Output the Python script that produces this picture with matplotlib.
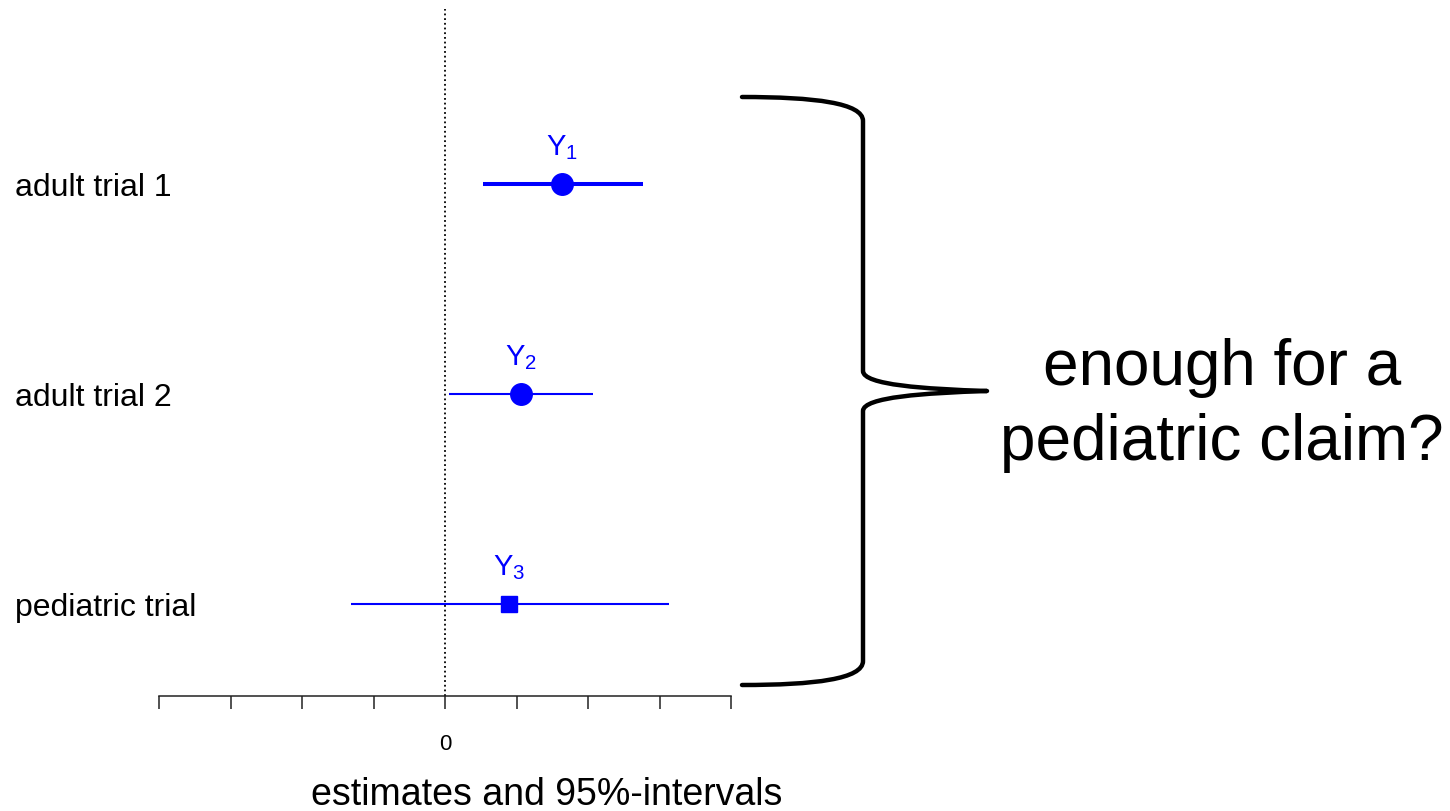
import matplotlib
matplotlib.use("Agg")
import matplotlib.pyplot as plt
from matplotlib.path import Path
from matplotlib.patches import PathPatch
import matplotlib.transforms as mtransforms

plt.rcParams['font.family'] = ['Liberation Sans', 'DejaVu Sans']
plt.rcParams['mathtext.fontset'] = 'custom'
plt.rcParams['mathtext.rm'] = 'Liberation Sans'
plt.rcParams['mathtext.it'] = 'Liberation Sans'

# Data
trials = ["adult trial 1", "adult trial 2", "pediatric trial"]
labels = [r"$\mathrm{Y}_1$", r"$\mathrm{Y}_2$", r"$\mathrm{Y}_3$"]
estimates = [1.64, 1.06, 0.90]
lower = [0.53, 0.06, -1.31]
upper = [2.77, 2.07, 3.13]
rows = [3, 2, 1]
markers = ["o", "o", "s"]
marker_sizes = [15.5, 15.5, 12]
line_widths = [2.9, 1.5, 1.5]
tick_values = [-4, -3, -2, -1, 0, 1, 2, 3, 4]
tick_labels = ["", "", "", "", "0", "", "", "", ""]
claim_lines = ["enough for a", "pediatric claim?"]

W, H = 1450, 812
fig = plt.figure(figsize=(W / 100, H / 100), dpi=100)
ax = fig.add_axes([159 / W, (H - 697) / H, 572 / W, (697 - 10) / H])

blue = "#0000FF"
ax.axvline(0, color="black", linestyle=(0, (1.0, 1.6)), linewidth=1.3, zorder=1)

for i in range(len(trials)):
    ax.plot([lower[i], upper[i]], [rows[i], rows[i]], color=blue,
            linewidth=line_widths[i], solid_capstyle="butt", zorder=2, clip_on=False)
    ax.plot(estimates[i], rows[i], marker=markers[i], color=blue,
            markersize=marker_sizes[i], linestyle="none", zorder=3, clip_on=False)
    ax.annotate(labels[i], (estimates[i], rows[i]), xytext=(0, 21.5),
                textcoords="offset points", ha="center", va="baseline",
                fontsize=21, color=blue)

# row labels, left aligned at the figure edge
trans = mtransforms.blended_transform_factory(fig.transFigure, ax.transData)
for i in range(len(trials)):
    ax.annotate(trials[i], (15 / W, rows[i]), xycoords=trans,
                xytext=(0, -3), textcoords="offset pixels",
                ha="left", va="center", fontsize=23, color="black")

ax.set_xlim(-4, 4)
ax.set_ylim(0.562, 3.833)
ax.set_xticks(tick_values)
ax.set_xticklabels(tick_labels, fontsize=16)
ax.set_yticks([])
ax.tick_params(axis="x", direction="out", length=9.4, width=1.1,
               pad=17, color="#222222")
for side in ["top", "right", "left"]:
    ax.spines[side].set_visible(False)
ax.spines["bottom"].set_linewidth(1.1)
ax.spines["bottom"].set_color("#222222")
ax.spines["bottom"].set_bounds(-4, 4)

fig.text(547 / W, (H - 805) / H, "estimates and 95%-intervals",
         ha="center", va="baseline", fontsize=27)

# overlay in pixel coordinates for the brace and the question
ov = fig.add_axes([0, 0, 1, 1], zorder=5)
ov.set_xlim(0, W)
ov.set_ylim(H, 0)
ov.axis("off")
ov.patch.set_alpha(0)

verts = [
    (742, 98), (815, 98), (863, 104), (863, 122),
    (863, 372),
    (863, 386), (925, 390), (987, 392),
    (925, 394), (863, 398), (863, 412),
    (863, 662),
    (863, 680), (815, 686), (742, 686),
]
codes = [Path.MOVETO, Path.CURVE4, Path.CURVE4, Path.CURVE4,
         Path.LINETO,
         Path.CURVE4, Path.CURVE4, Path.CURVE4,
         Path.CURVE4, Path.CURVE4, Path.CURVE4,
         Path.LINETO,
         Path.CURVE4, Path.CURVE4, Path.CURVE4]
ov.add_patch(PathPatch(Path(verts, codes), facecolor="none",
                       edgecolor="black", linewidth=3.2, capstyle="round",
                       joinstyle="round"))

ov.text(1222, 385, claim_lines[0], ha="center", va="baseline", fontsize=46)
ov.text(1222, 460, claim_lines[1], ha="center", va="baseline", fontsize=46)

fig.savefig("out.png", dpi=100)
